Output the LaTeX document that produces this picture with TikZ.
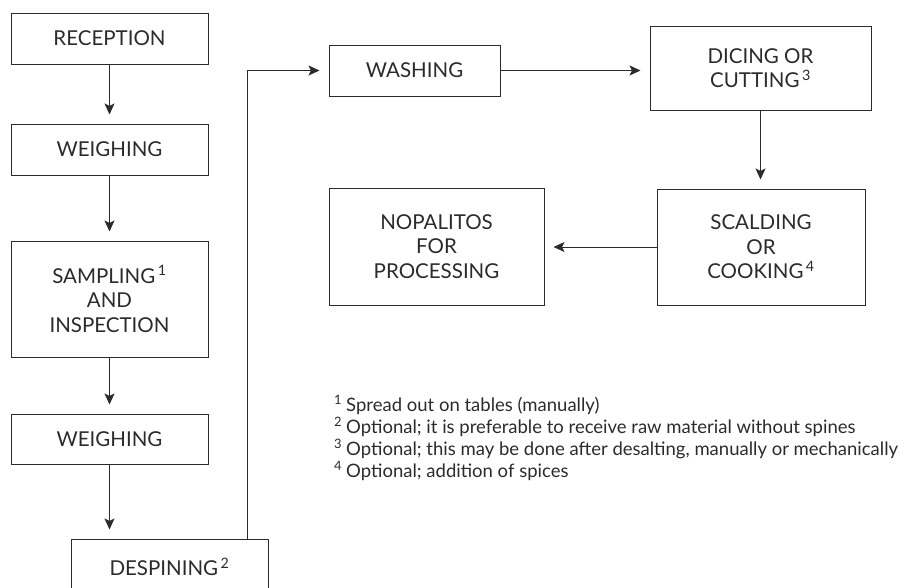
\documentclass[tikz,border=0pt]{standalone}
\usepackage{fontspec}
\setmainfont{Lato}
\usetikzlibrary{arrows.meta,calc}
\definecolor{ink}{HTML}{2B2B2B}
\newcommand{\fnm}[1]{\kern2.5pt\textsuperscript{#1}}
\newcommand{\fnl}[1]{\textsuperscript{#1}\kern4pt}
\tikzset{
  box/.style={draw=ink, line width=1pt, align=center, inner sep=0pt, text=ink,
    font=\fontsize{20.5}{24.5}\selectfont},
  arr/.style={draw=ink, line width=1pt, -{Stealth[length=11pt,width=10pt,inset=2.5pt]}, shorten >=9pt},
  note/.style={anchor=west, text=ink, inner sep=0pt, font=\fontsize{18.5}{22}\selectfont}
}
\begin{document}
\begin{tikzpicture}[x=1pt,y=-1pt]
\useasboundingbox (0,0) rectangle (918,587);
\begin{scope}
\clip (0,0) rectangle (918,587);
\node[box, minimum width=197pt, minimum height=51pt] (rec) at (109.5,38.5) {RECEPTION};
\node[box, minimum width=197pt, minimum height=51pt] (wei1) at (109.5,149.5) {WEIGHING};
\node[box, minimum width=197pt, minimum height=116pt] (samp) at (109.5,299) {SAMPLING\fnm{1}\\AND\\INSPECTION};
\node[box, minimum width=197pt, minimum height=50pt] (wei2) at (109.5,439) {WEIGHING};
\node[box, minimum width=197pt, minimum height=56pt] (desp) at (169.5,567) {DESPINING\fnm{2}};
\node[box, minimum width=171pt, minimum height=51pt] (wash) at (414.5,70.5) {WASHING};
\node[box, minimum width=221pt, minimum height=84pt] (dice) at (760.5,68) {DICING OR\\CUTTING\fnm{3}};
\node[box, minimum width=208pt, minimum height=116pt] (scald) at (761,247) {SCALDING\\OR\\COOKING\fnm{4}};
\node[box, minimum width=215pt, minimum height=117pt] (nop) at (436.5,246.5) {NOPALITOS\\FOR\\PROCESSING};

\draw[arr] (rec) -- (wei1);
\draw[arr] (wei1) -- (samp);
\draw[arr] (samp) -- (wei2);
\draw[arr] (wei2.south) -- (wei2.south |- desp.north);
\coordinate (loop) at ($(desp.north east)+(-21,0)$);
\draw[arr] (loop) |- (wash.west);
\draw[arr] (wash.east) -- (wash.east -| dice.west);
\draw[arr] (dice.south) -- (dice.south |- scald.north);
\draw[arr] (scald.west) -- (scald.west -| nop.east);
\end{scope}

\node[note] (n1) at (334,405) {\fnl{1}Spread out on tables (manually)};
\node[note] (n2) at (334,427) {\fnl{2}Optional; it is preferable to receive raw material without spines};
\node[note] (n3) at (334,449) {\fnl{3}Optional; this may be done after desalting, manually or mechanically};
\node[note] (n4) at (334,471) {\fnl{4}Optional; addition of spices};
\end{tikzpicture}
\end{document}
